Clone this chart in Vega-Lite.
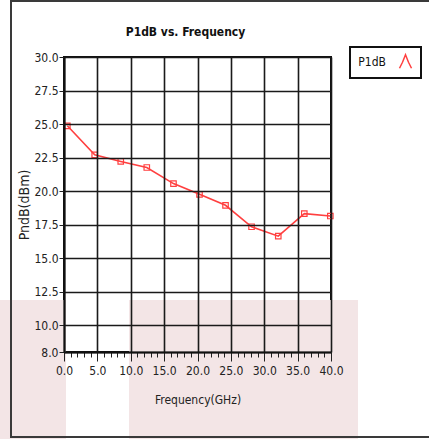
{
  "$schema": "https://vega.github.io/schema/vega-lite/v6.json",
  "width": 267,
  "height": 295,
  "autosize": {"type": "none"},
  "padding": {"left": 64, "top": 57, "right": 98, "bottom": 87},
  "background": "white",
  "title": {
    "text": "P1dB vs. Frequency",
    "font": "Liberation Sans Narrow, DejaVu Sans Condensed, sans-serif",
    "fontSize": 12,
    "fontWeight": "bold",
    "color": "#111111",
    "anchor": "middle",
    "frame": "group",
    "baseline": "bottom",
    "offset": -51,
    "dx": -12
  },
  "datasets": {
    "p1db": [
      {"freq": 0.5, "p1db": 24.87, "series": "P1dB"},
      {"freq": 4.6, "p1db": 22.70, "series": "P1dB"},
      {"freq": 8.5, "p1db": 22.21, "series": "P1dB"},
      {"freq": 12.4, "p1db": 21.76, "series": "P1dB"},
      {"freq": 16.4, "p1db": 20.56, "series": "P1dB"},
      {"freq": 20.3, "p1db": 19.76, "series": "P1dB"},
      {"freq": 24.2, "p1db": 18.94, "series": "P1dB"},
      {"freq": 28.1, "p1db": 17.34, "series": "P1dB"},
      {"freq": 32.1, "p1db": 16.64, "series": "P1dB"},
      {"freq": 36.0, "p1db": 18.32, "series": "P1dB"},
      {"freq": 39.9, "p1db": 18.14, "series": "P1dB"}
    ],
    "backdrop": [
      {"freq": -9.6, "freq_end": 0.3, "p1db": 11.88, "p1db_end": 0},
      {"freq": 9.74, "freq_end": 44.04, "p1db": 11.88, "p1db_end": 0}
    ],
    "frame": [
      {"freq": -7.94, "freq_end": 60, "p1db": 34.18, "p1db_end": 1.66}
    ]
  },
  "encoding": {
    "x": {
      "field": "freq",
      "type": "quantitative",
      "scale": {"domain": [0, 40], "nice": false, "zero": false},
      "axis": {
        "title": "Frequency(GHz)",
        "zindex": 1,
        "values": [0,1,2,3,4,5,6,7,8,9,10,11,12,13,14,15,16,17,18,19,20,21,22,23,24,25,26,27,28,29,30,31,32,33,34,35,36,37,38,39,40],
        "labelExpr": "datum.value % 5 === 0 ? format(datum.value, '.1f') : ''",
        "labelOverlap": false,
        "labelFlush": false,
        "labelPadding": 4,
        "tickSize": {"condition": {"test": "datum.value % 5 === 0", "value": 9}, "value": 5},
        "gridOpacity": {"condition": {"test": "datum.value % 5 === 0", "value": 1}, "value": 0},
        "titlePadding": 18
      }
    },
    "y": {
      "field": "p1db",
      "type": "quantitative",
      "scale": {"domain": [8, 30], "nice": false, "zero": false},
      "axis": {
        "title": "PndB(dBm)",
        "zindex": 1,
        "values": [8, 10, 12.5, 15, 17.5, 20, 22.5, 25, 27.5, 30],
        "format": ".1f",
        "labelOverlap": false,
        "labelFlush": false,
        "labelPadding": 1,
        "tickSize": 5,
        "titlePadding": 2,
        "titleFontSize": 14,
        "titleFont": "DejaVu Sans Condensed, sans-serif"
      }
    }
  },
  "layer": [
    {
      "data": {"name": "backdrop"},
      "mark": {"type": "rect", "fill": "#f3e5e6", "clip": false},
      "encoding": {
        "x2": {"field": "freq_end"},
        "y2": {"field": "p1db_end"}
      }
    },
    {
      "data": {"name": "frame"},
      "mark": {"type": "rect", "fillOpacity": 0, "stroke": "#3a3a3a", "strokeWidth": 2, "clip": false},
      "encoding": {
        "x2": {"field": "freq_end"},
        "y2": {"field": "p1db_end"}
      }
    },
    {
      "data": {"name": "p1db"},
      "mark": {"type": "line", "strokeWidth": 1.6},
      "encoding": {
        "color": {
          "field": "series",
          "type": "nominal",
          "scale": {"range": ["#ff3f3f"]},
          "legend": {
            "title": null,
            "orient": "none",
            "legendX": 286,
            "legendY": -10,
            "symbolType": "M-0.8,0.9L-0.4,0.1L0,-0.9L0.4,0.1L0.8,0.9",
            "symbolSize": 225,
            "symbolStrokeWidth": 1.5,
            "symbolFillColor": "transparent",
            "symbolStrokeColor": "#ff3f3f",
            "symbolOffset": 41,
            "labelOffset": -28,
            "labelAlign": "right",
            "labelFontSize": 12,
            "labelColor": "#111111",
            "labelFont": "Liberation Sans Narrow, DejaVu Sans Condensed, sans-serif",
            "padding": 6,
            "strokeColor": "#111111",
            "fillColor": "white",
            "encode": {"legend": {"update": {"strokeWidth": {"value": 2}}}}
          }
        }
      }
    },
    {
      "data": {"name": "p1db"},
      "mark": {"type": "point", "shape": "square", "filled": false, "size": 30, "strokeWidth": 1.2, "opacity": 1},
      "encoding": {
        "color": {"field": "series", "type": "nominal", "legend": null}
      }
    }
  ],
  "config": {
    "view": {"stroke": "#111111", "strokeWidth": 2},
    "axis": {
      "grid": true,
      "gridColor": "#1a1a1a",
      "gridWidth": 1.6,
      "domain": true,
      "domainColor": "#111111",
      "domainWidth": 2,
      "tickColor": "#222222",
      "tickWidth": 1,
      "labelFont": "Liberation Sans Narrow, DejaVu Sans Condensed, sans-serif",
      "labelFontSize": 12,
      "labelColor": "#222222",
      "titleFont": "Liberation Sans Narrow, DejaVu Sans Condensed, sans-serif",
      "titleFontSize": 12,
      "titleFontWeight": "normal",
      "titleColor": "#222222"
    }
  }
}
